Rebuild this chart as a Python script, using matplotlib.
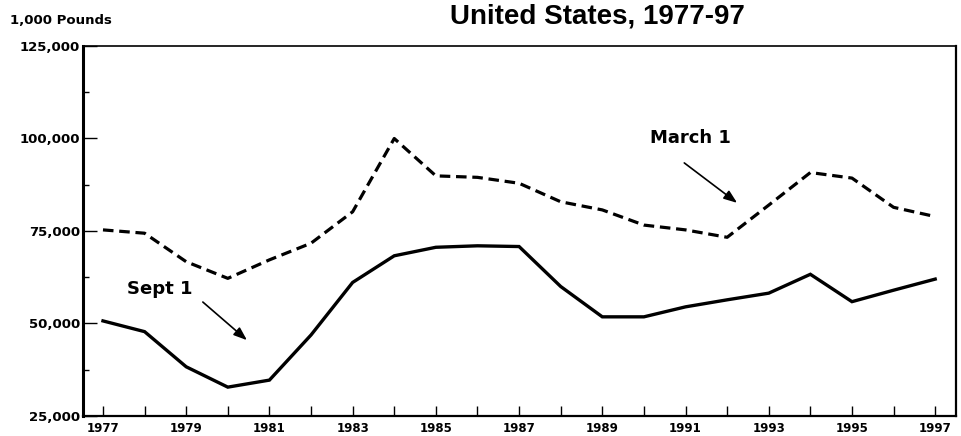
import matplotlib
matplotlib.use('Agg')
import matplotlib.pyplot as plt
from matplotlib.ticker import MultipleLocator, FuncFormatter

years = list(range(1977, 1998))
march1 = [75300, 74400, 66700, 62200, 67200, 71700, 80200, 100000, 89900, 89500,
          87900, 82900, 80700, 76600, 75300, 73300, 82000, 90800, 89300, 81400, 78900]
sept1 = [50700, 47800, 38300, 32800, 34700, 46900, 61100, 68300, 70600, 71000,
         70800, 60000, 51800, 51800, 54500, 56400, 58200, 63300, 55900, 59000, 62000]
title_text = "United States, 1977-97"
unit_label = "1,000 Pounds"

fig = plt.figure(figsize=(9.61, 4.36), dpi=100)
ax = fig.add_axes([83/961, 1-416/436, (956-83)/961, (416-46)/436])

ax.plot(years, march1, color='black', lw=2.3, linestyle=(0, (3.3, 1.8)))
ax.plot(years, sept1, color='black', lw=2.4, solid_joinstyle='miter')

ax.set_xlim(1976.52, 1997.5)
ax.set_ylim(25000, 125000)
ax.set_xticks(years)
ax.set_xticklabels([str(y) if (y - 1977) % 2 == 0 else '' for y in years])
ax.yaxis.set_major_locator(MultipleLocator(25000))
ax.yaxis.set_minor_locator(MultipleLocator(12500))
ax.yaxis.set_major_formatter(FuncFormatter(lambda v, p: f"{int(v):,}"))

ax.tick_params(axis='x', direction='in', length=7, width=1, pad=4,
               labelsize=8.5, top=False)
ax.tick_params(axis='y', which='major', direction='in', length=10, width=1, pad=2,
               labelsize=9.5, right=False)
ax.tick_params(axis='y', which='minor', direction='in', length=4.5, width=1, right=False)
for lab in ax.get_xticklabels() + ax.get_yticklabels():
    lab.set_fontweight('bold')
    lab.set_family('DejaVu Sans')

ax.spines['left'].set_linewidth(2.2)
ax.spines['bottom'].set_linewidth(1.6)
ax.spines['top'].set_linewidth(1.2)
ax.spines['right'].set_linewidth(1.6)

arrow_props = dict(arrowstyle='-|>,head_length=0.8,head_width=0.3',
                   color='black', lw=1.2, shrinkA=0, shrinkB=0)
ax.annotate('', xy=(1992.24, 82600), xytext=(1990.97, 93400),
            textcoords='data', arrowprops=arrow_props)
ax.text(1991.11, 100100, 'March 1', ha='center', va='center', fontsize=13,
        fontweight='bold')
ax.annotate('', xy=(1980.46, 45500), xytext=(1979.40, 55800),
            textcoords='data', arrowprops=arrow_props)
ax.text(1978.37, 59300, 'Sept 1', ha='center', va='center', fontsize=13,
        fontweight='bold')

fig.text(10/961, 1-21/436, unit_label, ha='left', va='center', fontsize=9.5,
         fontweight='bold', family='DejaVu Sans')
fig.text(597/961, 1-23/436, title_text, ha='center', va='baseline', fontsize=20,
         fontweight='bold', family='Liberation Sans')

fig.savefig('out.png', dpi=100)
